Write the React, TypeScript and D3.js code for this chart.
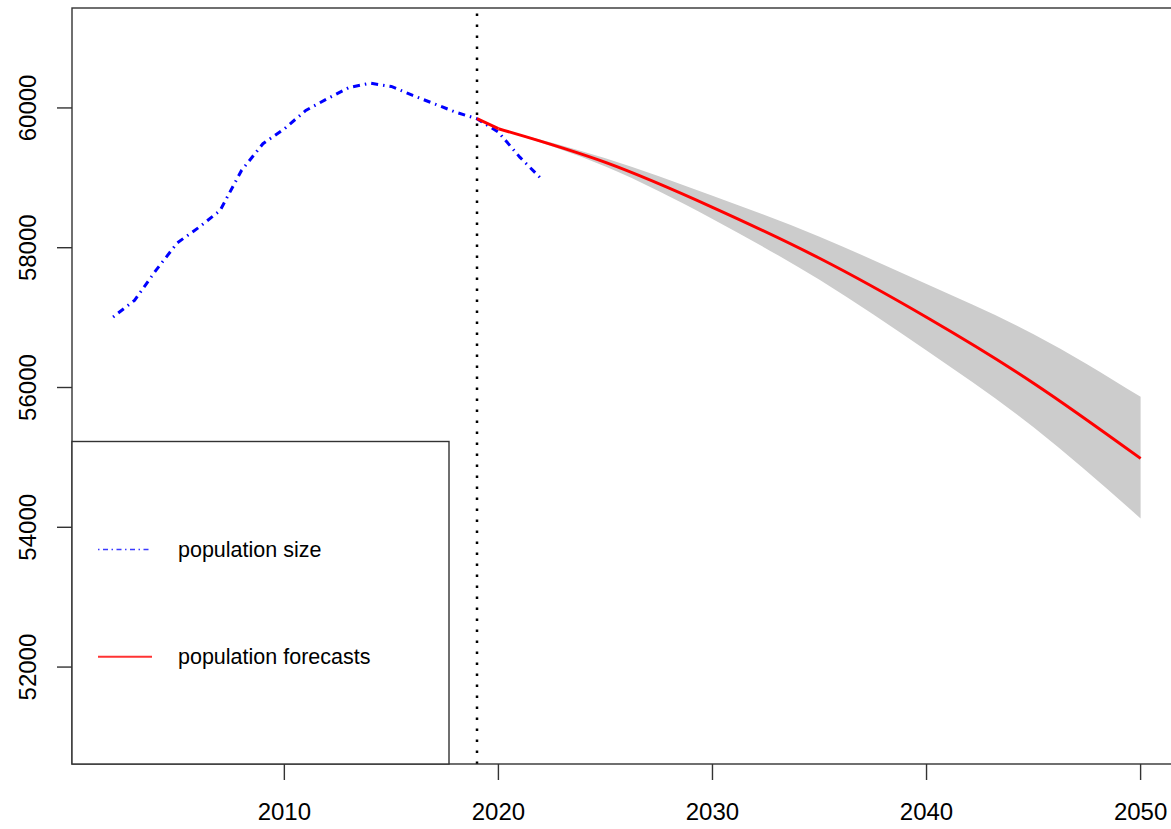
import React from "react";
import * as d3 from "d3";

// Observed population size
const obsYears = [2002, 2003, 2004, 2005, 2006, 2007, 2008, 2009, 2010, 2011, 2012, 2013, 2014, 2015, 2016, 2017, 2018, 2019, 2020, 2021, 2022];
const obsValues = [57009, 57247, 57676, 58070, 58290, 58534, 59106, 59488, 59702, 59964, 60131, 60289, 60355, 60307, 60179, 60060, 59940, 59845, 59654, 59296, 58987];

// Forecasts with prediction interval
const fcYears = [2019, 2020, 2025, 2030, 2035, 2040, 2045, 2050];
const fcValues = [59846, 59703, 59221, 58578, 57849, 57005, 56062, 54985];
const fcUpper = [59846, 59703, 59281, 58745, 58157, 57480, 56762, 55866];
const fcLower = [59846, 59703, 59161, 58410, 57540, 56530, 55432, 54127];

const xTicks = [2010, 2020, 2030, 2040, 2050];
const yTicks = [52000, 54000, 56000, 58000, 60000];
const cutYear = 2019;
const legendLabels = ["population size", "population forecasts"];

const W = 1171;
const H = 829;
const L = 72, T = 8, B = 764, R = 1181.7;

export default function App() {
  const x = d3.scaleLinear().domain([2000.08, 2051.92]).range([L, R]);
  const y = d3.scaleLinear().domain([50613, 61430]).range([B, T]);

  const obsLine = d3
    .line<number>()
    .x((_, i) => x(obsYears[i]))
    .y((d) => y(d))(obsValues) as string;

  const fcPts: [number, number][] = fcYears.map((yr, i) => [x(yr), y(fcValues[i])]);
  const fcHead = d3.line().curve(d3.curveLinear)(fcPts.slice(0, 2)) as string;
  const fcTail = d3.line().curve(d3.curveNatural)(fcPts.slice(1)) as string;

  const idx = d3.range(1, fcYears.length);
  const band = d3
    .area<number>()
    .x((i) => x(fcYears[i]))
    .y0((i) => y(fcLower[i]))
    .y1((i) => y(fcUpper[i]))
    .curve(d3.curveNatural)(idx) as string;

  const font = "'Liberation Sans', Arial, Helvetica, sans-serif";
  const axisColor = "#333";

  return (
    <svg
      width={W}
      height={H}
      style={{ position: "absolute", left: 0, top: 0, background: "#fff" }}
      fontFamily={font}
    >
      <defs>
        <clipPath id="plotclip">
          <rect x={L} y={T} width={R - L} height={B - T} />
        </clipPath>
      </defs>
      <g clipPath="url(#plotclip)">
        <path d={band} fill="#cccccc" stroke="none" />
        <path
          d={obsLine}
          fill="none"
          stroke="#0000ff"
          strokeWidth={3}
          strokeDasharray="1.5,5,7,5"
          strokeLinecap="butt"
        />
        <path d={fcHead} fill="none" stroke="#ff0000" strokeWidth={3} />
        <path d={fcTail} fill="none" stroke="#ff0000" strokeWidth={3} />
        <line
          x1={x(cutYear)}
          x2={x(cutYear)}
          y1={B}
          y2={T}
          stroke="#000"
          strokeWidth={2.5}
          strokeDasharray="2.5,8.5"
        />
      </g>
      {/* plot box */}
      <rect x={L} y={T} width={R - L} height={B - T} fill="none" stroke={axisColor} strokeWidth={1.4} />
      {/* x axis ticks */}
      {xTicks.map((t) => (
        <g key={t}>
          <line x1={x(t)} x2={x(t)} y1={B} y2={B + 16} stroke={axisColor} strokeWidth={1.4} />
          <text x={x(t)} y={820} fontSize={24} textAnchor="middle" fill="#000">
            {t}
          </text>
        </g>
      ))}
      {/* y axis ticks */}
      {yTicks.map((t) => (
        <g key={t}>
          <line x1={L - 15} x2={L} y1={y(t)} y2={y(t)} stroke={axisColor} strokeWidth={1.4} />
          <text
            transform={`translate(36,${y(t)}) rotate(-90)`}
            fontSize={24}
            textAnchor="middle"
            fill="#000"
          >
            {t}
          </text>
        </g>
      ))}
      {/* legend */}
      <rect x={L} y={441.5} width={449 - L} height={B - 441.5} fill="#fff" stroke={axisColor} strokeWidth={1.4} />
      <line x1={98} x2={152} y1={549.5} y2={549.5} stroke="#3a3aff" strokeWidth={1.6} strokeDasharray="1.5,3.5,5,3.5" />
      <text x={178} y={557} fontSize={21.5} fill="#000">{legendLabels[0]}</text>
      <line x1={98} x2={152} y1={656.7} y2={656.7} stroke="#ff3333" strokeWidth={2} />
      <text x={178} y={664} fontSize={21.5} fill="#000">{legendLabels[1]}</text>
    </svg>
  );
}
